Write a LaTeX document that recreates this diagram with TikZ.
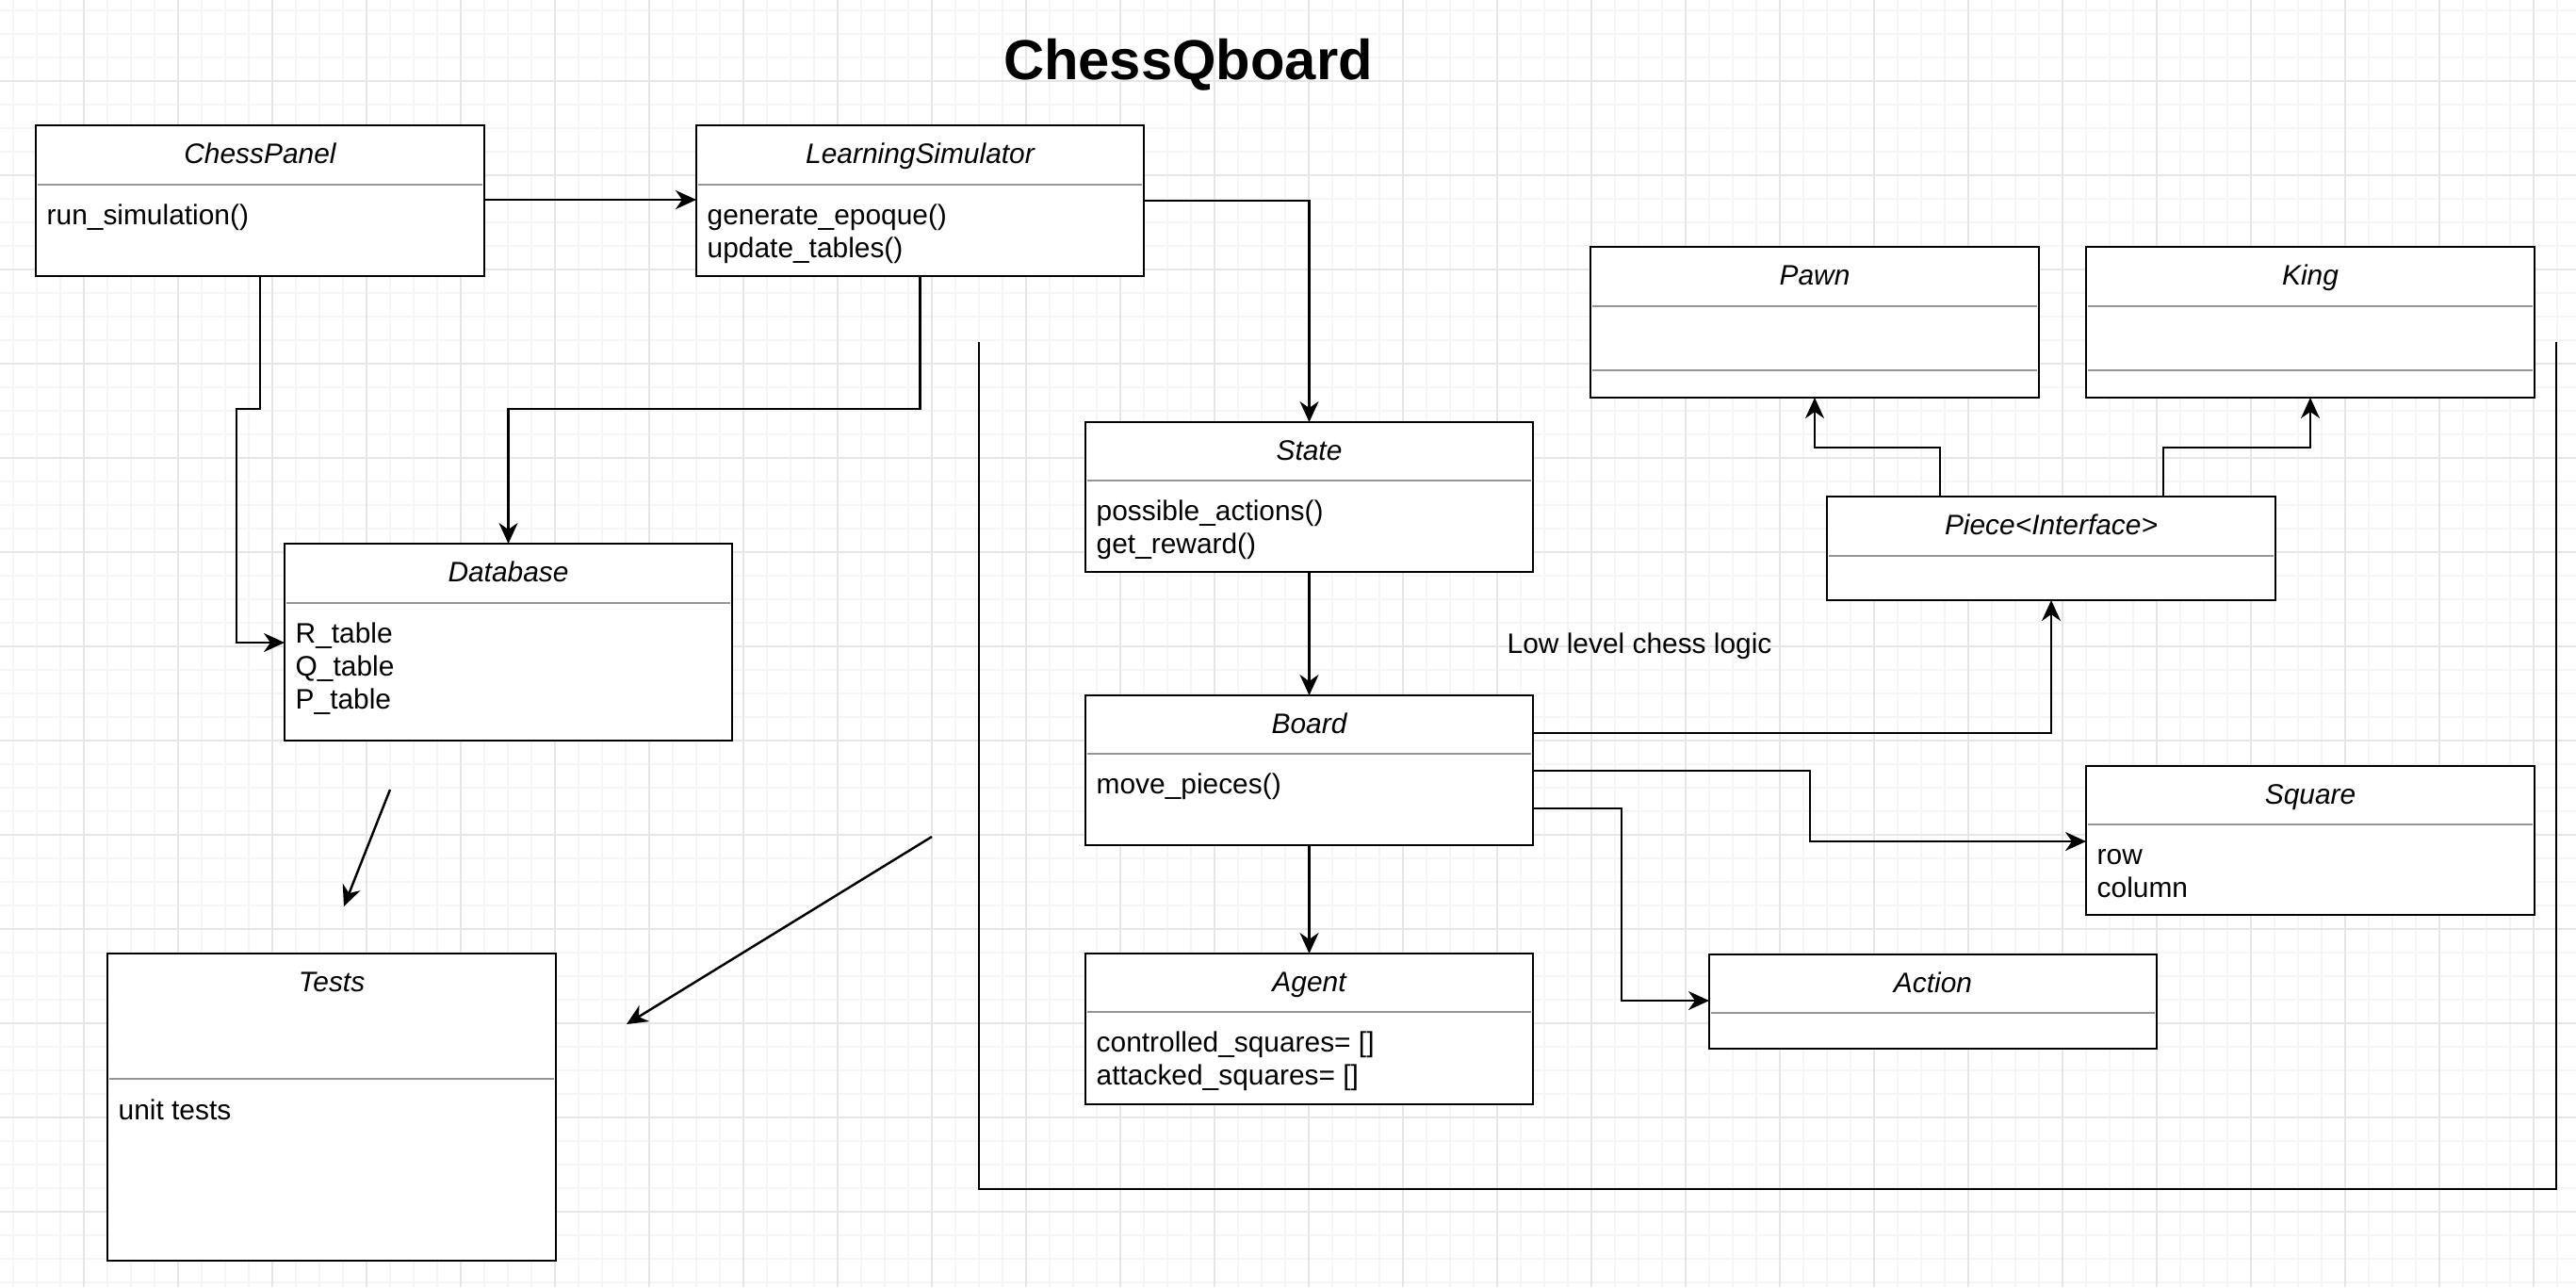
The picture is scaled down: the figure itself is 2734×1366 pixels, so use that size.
\documentclass[tikz,border=0pt]{standalone}
\usepackage{fontspec}
\setmainfont{Liberation Sans}
\usepackage{tikz}
\usetikzlibrary{calc,positioning,arrows.meta}
\definecolor{sepgray}{RGB}{150,150,150}
\definecolor{gridminor}{RGB}{245,245,245}
\definecolor{gridmajor}{RGB}{230,230,230}
\tikzset{%
  umlbox/.style={draw, fill=white, line width=0.7pt, anchor=north west, inner sep=0pt, outer sep=0pt},% class box
  classname/.style={anchor=base, inner sep=0pt, font=\fontsize{8.5pt}{10pt}\selectfont\itshape},% name in header
  member/.style={anchor=base west, inner sep=0pt, font=\fontsize{8.5pt}{10pt}\selectfont},% method or field
  umlsep/.style={draw=sepgray, line width=0.6pt},% header separator
  assoc/.style={draw, line width=0.7pt, -{Stealth[length=2.2mm, width=2mm, inset=0.7mm]}},% connector
  layerline/.style={draw, line width=0.7pt},% open frame round the chess logic
  minorline/.style={draw=gridminor, line width=0.7pt},
  majorline/.style={draw=gridmajor, line width=0.8pt}
}
% name, top left x, top left y, width, height, header height, class name
\newcommand*{\umlclass}[7]{
  \node[umlbox, minimum width=#4*0.01cm, minimum height=#5*0.01cm] (#1) at (#2,#3) {};
  \node[classname] at ($(#1.north)+(0,40)$) {#7};
  \draw[umlsep] ($(#1.north west)+(2,#6)$) -- ($(#1.north east)+(-2,#6)$);
}
% node, first baseline below top, list of lines
\newcommand*{\members}[3]{
  \foreach \m [count=\i from 0] in {#3}
    \node[member] at ($(#1.north west)+(11,#2+35*\i)$) {\m};
}

\begin{document}
\begin{tikzpicture}[x=0.01cm, y=-0.01cm]
  \useasboundingbox (0,0) rectangle (2734,1366);
  \fill[white] (0,0) rectangle (2734,1366);
  % background grid
  \foreach \gx in {14,39,...,2734} \draw[minorline] (\gx,0) -- (\gx,1366);
  \foreach \gy in {11,36,...,1366} \draw[minorline] (0,\gy) -- (2734,\gy);
  \foreach \gx in {89,189,...,2734} \draw[majorline] (\gx,0) -- (\gx,1366);
  \foreach \gy in {86,186,...,1366} \draw[majorline] (0,\gy) -- (2734,\gy);

  \node[font=\fontsize{17pt}{20pt}\selectfont\bfseries, anchor=base, inner sep=0pt] (title) at (1261,84) {ChessQboard};

  \umlclass{ChessPanel}{38}{133}{476}{160}{63}{ChessPanel}
  \members{ChessPanel}{105}{run\_simulation()}
  \umlclass{LearningSimulator}{739}{133}{475}{160}{63}{LearningSimulator}
  \members{LearningSimulator}{105}{generate\_epoque(),update\_tables()}
  \umlclass{Database}{302}{577}{475}{209}{63}{Database}
  \members{Database}{105}{R\_table,Q\_table,P\_table}
  \umlclass{Tests}{114}{1012}{476}{326}{133}{Tests}
  \members{Tests}{176}{unit tests}

  \umlclass{State}{1152}{448}{475}{159}{62}{State}
  \members{State}{104}{possible\_actions(),get\_reward()}
  \umlclass{Board}{1152}{738}{475}{159}{62}{Board}
  \members{Board}{104}{move\_pieces()}
  \umlclass{Agent}{1152}{1012}{475}{160}{62}{Agent}
  \members{Agent}{104}{controlled\_squares= [],attacked\_squares= []}

  \umlclass{Pawn}{1688}{262}{476}{160}{63}{Pawn}
  \draw[umlsep] ($(Pawn.north west)+(2,131)$) -- ($(Pawn.north east)+(-2,131)$);
  \umlclass{King}{2214}{262}{476}{160}{63}{King}
  \draw[umlsep] ($(King.north west)+(2,131)$) -- ($(King.north east)+(-2,131)$);
  \umlclass{Piece}{1939}{527}{476}{110}{63}{Piece<Interface>}
  \umlclass{Square}{2214}{813}{476}{158}{62}{Square}
  \members{Square}{104}{row,column}
  \umlclass{Action}{1814}{1013}{475}{100}{62}{Action}

  \node[member] (chesslogic) at (1599,693) {Low level chess logic};

  % open frame
  \coordinate (frameL) at (1039,363);
  \coordinate (frameR) at (2713,363);
  \draw[layerline] (frameL) -- (1039,1262) -- (2713,1262) -- (frameR);

  \draw[assoc] ($(ChessPanel.north east)+(0,79)$) -- ($(LearningSimulator.north west)+(0,79)$);
  \draw[assoc] ($(LearningSimulator.north east)+(0,80)$) -| (State.north);
  \draw[assoc] (LearningSimulator.south) -- ++(0,141) -| (Database.north);
  \draw[assoc] (ChessPanel.south) -- ++(0,141) -- ++(-25,0) |- ($(Database.north west)+(0,105)$);
  \draw[assoc] (State.south) -- (Board.north);
  \draw[assoc] (Board.south) -- (Agent.north);
  \draw[assoc] ($(Board.north east)+(0,40)$) -| (Piece.south);
  \draw[assoc] ($(Board.north east)+(0,80)$) -- ++(294,0) |- ($(Square.north west)+(0,80)$);
  \draw[assoc] ($(Board.north east)+(0,120)$) -- ++(94,0) |- ($(Action.north west)+(0,49)$);
  \draw[assoc] ($(Piece.north west)+(120,0)$) -- ++(0,-52) -| (Pawn.south);
  \draw[assoc] ($(Piece.north west)+(357,0)$) -- ++(0,-52) -| (King.south);

  % loose arrows
  \coordinate (dbout) at (414,838);
  \coordinate (testsin) at (365,962);
  \draw[assoc] (dbout) -- (testsin);
  \coordinate (logicout) at (989,888);
  \coordinate (testsside) at (665,1087);
  \draw[assoc] (logicout) -- (testsside);
\end{tikzpicture}
\end{document}
